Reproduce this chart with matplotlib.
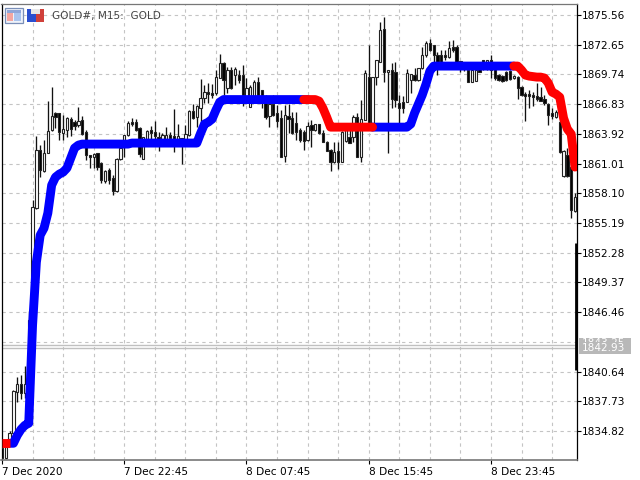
import matplotlib
matplotlib.use("Agg")
import matplotlib.pyplot as plt
from matplotlib.patches import Rectangle

# candles, one row per bar: open, high, low, close
candles = [
(1833.13,1833.22,1832.15,1832.15),(1832.15,1833.22,1832.15,1833.22),(1833.62,1834.79,1833.62,1834.60),(1834.60,1838.81,1834.60,1838.71),
(1838.61,1840.08,1837.63,1839.40),(1839.40,1840.28,1837.93,1838.52),(1838.52,1841.16,1838.03,1839.40),(1840.38,1846.55,1840.28,1845.67),
(1845.67,1857.43,1845.67,1856.74),(1856.65,1863.70,1856.55,1862.33),(1862.33,1862.82,1859.68,1860.37),(1860.27,1863.31,1860.17,1862.04),
(1862.04,1867.13,1862.04,1864.19),(1864.29,1868.50,1864.19,1865.66),(1865.96,1866.05,1864.49,1865.56),(1865.96,1865.96,1863.31,1864.09),
(1863.99,1865.76,1863.31,1864.39),(1864.29,1865.56,1863.60,1865.47),(1865.37,1865.56,1863.70,1864.39),(1865.07,1865.27,1864.29,1864.68),
(1864.78,1866.54,1864.58,1865.17),(1865.27,1865.66,1863.80,1863.90),(1864.09,1864.29,1861.35,1861.84),(1861.84,1861.84,1860.57,1861.64),
(1861.64,1862.04,1860.57,1861.94),(1862.04,1862.04,1860.37,1860.67),(1861.06,1861.15,1859.10,1859.39),(1859.29,1860.37,1859.10,1860.27),
(1860.37,1860.57,1859.00,1859.39),(1859.59,1859.88,1857.92,1858.31),(1858.31,1861.55,1858.21,1861.45),(1861.45,1862.82,1861.35,1862.53),
(1862.82,1863.80,1861.64,1863.80),(1863.80,1865.17,1863.70,1864.97),(1865.07,1865.47,1864.68,1864.88),(1865.07,1865.37,1864.19,1864.29),
(1864.49,1864.58,1861.64,1861.94),(1861.45,1863.60,1861.45,1863.60),(1863.41,1864.29,1862.82,1864.19),(1864.29,1864.68,1863.31,1863.99),
(1864.09,1865.17,1863.31,1863.70),(1863.60,1864.09,1862.23,1863.41),(1863.41,1863.99,1863.31,1863.80),(1863.41,1864.58,1863.11,1863.80),
(1863.80,1864.09,1863.21,1863.51),(1863.70,1866.35,1862.13,1863.41),(1863.41,1864.88,1863.11,1863.70),(1863.51,1863.51,1860.96,1863.21),
(1863.41,1864.78,1863.31,1863.90),(1863.80,1866.25,1863.70,1866.15),(1866.15,1866.84,1865.37,1865.47),(1865.56,1866.74,1864.58,1866.64),
(1866.45,1869.29,1864.78,1867.43),(1867.43,1868.70,1866.94,1868.01),(1868.01,1868.90,1866.94,1867.82),(1867.92,1868.80,1867.43,1867.72),
(1867.92,1870.17,1867.72,1869.48),(1869.39,1871.74,1869.39,1870.86),(1870.86,1870.95,1867.72,1869.19),(1868.41,1870.46,1867.92,1870.17),
(1870.17,1870.46,1868.31,1868.41),(1869.68,1870.46,1868.70,1870.27),(1869.68,1870.17,1868.90,1869.19),(1869.68,1870.66,1866.64,1867.72),
(1867.52,1869.39,1867.43,1868.41),(1866.54,1868.70,1866.54,1868.50),(1867.52,1869.19,1867.43,1868.99),(1868.99,1869.48,1867.52,1867.72),
(1868.21,1868.21,1866.45,1867.52),(1866.94,1867.72,1865.37,1865.56),(1865.66,1867.52,1864.58,1866.84),(1866.84,1867.72,1865.66,1865.76),
(1865.96,1866.74,1864.58,1865.17),(1865.47,1866.25,1861.64,1861.64),(1861.74,1866.74,1861.15,1865.76),(1865.66,1866.84,1863.99,1865.37),
(1865.47,1866.05,1863.90,1863.99),(1864.97,1866.05,1863.31,1864.09),(1864.29,1864.49,1863.11,1863.31),(1864.09,1864.29,1862.33,1863.21),
(1863.31,1865.07,1863.21,1864.68),(1864.78,1865.27,1862.62,1864.29),(1864.29,1864.88,1864.19,1864.88),(1864.88,1864.88,1863.90,1863.99),
(1863.99,1864.29,1863.11,1863.11),(1863.11,1863.21,1862.23,1862.23),(1862.33,1862.43,1860.27,1861.15),(1861.15,1863.11,1861.06,1862.13),
(1862.23,1863.11,1860.47,1861.15),(1861.15,1864.19,1861.15,1864.09),(1863.21,1864.49,1863.11,1864.29),(1863.60,1864.29,1863.02,1863.02),
(1863.60,1865.76,1863.11,1865.56),(1865.56,1865.96,1861.64,1861.64),(1861.64,1867.23,1861.15,1865.37),(1865.27,1870.17,1865.27,1869.88),
(1869.48,1872.62,1864.97,1864.97),(1864.97,1869.48,1864.97,1869.48),(1869.48,1871.15,1868.70,1871.15),(1870.95,1874.87,1870.95,1874.09),
(1874.19,1875.36,1868.99,1869.97),(1869.97,1870.17,1862.04,1870.17),(1870.17,1870.86,1866.45,1867.33),(1869.97,1870.95,1866.54,1867.23),
(1866.94,1867.72,1864.97,1866.45),(1867.03,1867.62,1865.96,1866.45),(1867.03,1870.27,1867.03,1869.88),(1869.19,1869.78,1867.92,1869.78),
(1869.68,1870.37,1869.09,1869.19),(1869.19,1870.37,1869.09,1870.37),(1870.37,1872.42,1870.27,1871.64),(1871.64,1873.01,1871.44,1872.82),
(1872.82,1873.21,1872.03,1872.13),(1872.62,1872.62,1870.86,1871.64),(1871.64,1871.93,1869.68,1870.86),(1871.64,1872.13,1870.66,1870.86),
(1871.64,1872.13,1871.15,1871.44),(1871.44,1873.01,1871.35,1872.33),(1872.42,1873.11,1871.93,1872.13),(1872.42,1872.62,1870.76,1870.95),
(1871.05,1871.05,1869.97,1870.76),(1870.56,1870.95,1870.07,1870.27),(1870.17,1870.27,1868.99,1868.99),(1868.99,1870.27,1868.99,1870.17),
(1869.09,1870.27,1869.09,1870.17),(1870.56,1870.66,1869.97,1869.97),(1871.15,1871.15,1870.17,1870.95),(1870.86,1871.15,1870.17,1871.15),
(1871.15,1871.64,1869.39,1870.17),(1870.37,1870.37,1869.19,1869.39),(1869.68,1869.78,1869.09,1869.19),(1869.58,1869.68,1868.99,1869.09),
(1869.97,1870.07,1869.09,1869.19),(1870.07,1870.17,1869.19,1869.29),(1869.39,1869.68,1869.29,1869.58),(1869.48,1869.58,1867.33,1868.41),
(1868.50,1868.60,1867.62,1867.72),(1867.82,1868.01,1865.17,1867.62),(1867.82,1868.21,1866.45,1867.62),(1867.72,1868.01,1866.64,1867.52),
(1867.62,1868.90,1867.13,1867.33),(1867.52,1868.50,1867.13,1867.13),(1867.33,1867.72,1866.74,1866.94),(1866.84,1866.94,1864.78,1865.76),
(1865.96,1866.45,1865.37,1865.66),(1865.56,1866.25,1865.47,1866.05),(1865.07,1865.76,1862.04,1862.13),(1859.78,1862.33,1859.68,1862.23),
(1861.84,1862.53,1859.68,1859.78),(1860.67,1861.06,1855.67,1856.45),(1856.35,1858.12,1856.25,1857.72),
]
# the bar still forming, squeezed against the price scale
last_high = 1853.22
last_low = 1840.77

# smoothed indicator line, one value per bar
line = [
1833.62,1833.62,1833.62,1833.62,1834.40,1834.99,1835.38,1835.58,1845.18,1851.35,1854.00,1854.69,1856.16,1858.90,1859.68,1859.98,
1860.17,1860.57,1861.55,1862.53,1862.82,1862.92,1862.92,1862.92,1862.92,1862.92,1862.92,1862.92,1862.92,1862.92,1862.92,1862.92,
1862.92,1862.92,1863.02,1863.02,1863.02,1863.02,1863.02,1863.02,1863.02,1863.02,1863.02,1863.02,1863.02,1863.02,1863.02,1863.02,
1863.02,1863.02,1863.02,1863.02,1863.99,1864.88,1865.07,1865.37,1866.25,1867.03,1867.28,1867.28,1867.28,1867.28,1867.28,1867.28,
1867.28,1867.28,1867.28,1867.28,1867.28,1867.28,1867.28,1867.28,1867.28,1867.28,1867.28,1867.28,1867.28,1867.28,1867.28,1867.28,
1867.28,1867.28,1867.28,1867.13,1866.45,1865.56,1864.58,1864.58,1864.58,1864.58,1864.58,1864.58,1864.58,1864.58,1864.58,1864.58,
1864.58,1864.58,1864.58,1864.58,1864.58,1864.58,1864.58,1864.58,1864.58,1864.58,1864.58,1864.88,1865.96,1866.84,1867.72,1868.80,
1870.07,1870.56,1870.56,1870.56,1870.56,1870.56,1870.56,1870.56,1870.56,1870.56,1870.56,1870.56,1870.56,1870.56,1870.56,1870.56,
1870.56,1870.56,1870.56,1870.56,1870.56,1870.56,1870.56,1870.56,1870.17,1869.68,1869.58,1869.53,1869.48,1869.48,1869.39,1868.90,
1868.01,1867.82,1867.52,1865.47,1864.39,1863.90,1860.67,
]
# bar ranges where the line is falling (red), drawn over the rising ones (blue)
blue_runs = [(2, 80), (97, 134)]
red_runs = [(0, 2), (79, 97), (134, 150)]

y_ticks = [1875.56, 1872.65, 1869.74, 1866.83, 1863.92, 1861.01, 1858.10, 1855.19,
           1852.28, 1849.37, 1846.46, 1840.64, 1837.73, 1834.82]
y_grid_extra = [1843.55]
x_ticks = [0, 32, 64, 96, 128]
x_labels = ["7 Dec 2020", "7 Dec 22:45", "8 Dec 07:45", "8 Dec 15:45", "8 Dec 23:45"]
x_grid = list(range(8, 151, 8))
bid = 1842.93
ask = 1843.25

W, H = 640, 480
fig = plt.figure(figsize=(W / 100, H / 100), dpi=100, facecolor="white")
ax = fig.add_axes([1.5 / W, 1 - 460 / H, 575.5 / W, 456 / H])
ax.set_xlim(-0.13, 150.52)
ax.set_ylim(1831.98, 1876.64)

# grid
grid_style = dict(color="#c4c4c4", lw=0.8, dashes=(3, 3.2), zorder=1)
for g in x_grid:
    ax.axvline(g, **grid_style)
for t in y_ticks + y_grid_extra:
    ax.axhline(t, **grid_style)

# bid / ask lines
ax.axhline(bid, color="#c0c0c0", lw=1, zorder=1.5)
ax.axhline(ask, color="#c0c0c0", lw=1, zorder=1.5)

# candles
for i, (o, h, l, c) in enumerate(candles):
    ax.plot([i, i], [l, h], color="#111111", lw=0.95, zorder=2, solid_capstyle="butt")
    face = "white" if c >= o else "black"
    ax.add_patch(Rectangle((i - 0.3, min(o, c)), 0.6, max(abs(c - o), 0.05),
                           facecolor=face, edgecolor="#222222", lw=0.8, zorder=3))
ax.plot([150.35, 150.35], [last_low, last_high], color="black", lw=2, zorder=3, solid_capstyle="butt")

# indicator
for a, b in blue_runs:
    ax.plot(range(a, b + 1), line[a:b + 1], color="#0000ff", lw=6.4, zorder=4,
            solid_capstyle="round", solid_joinstyle="round")
for a, b in red_runs:
    cap = "butt" if a == 0 else "round"
    ax.plot(range(a, b + 1), line[a:b + 1], color="#ff0000", lw=6.4, zorder=5,
            solid_capstyle=cap, solid_joinstyle="round")

# axes
for s in ("left", "right", "top"):
    ax.spines[s].set_color("black")
    ax.spines[s].set_linewidth(0.9)
ax.spines["top"].set_color("#777777")
ax.spines["bottom"].set_color("#777777")
ax.spines["bottom"].set_linewidth(1.2)

ax.yaxis.tick_right()
ax.set_yticks(y_ticks)
ax.set_yticklabels(["%.2f" % t for t in y_ticks])
ax.set_xticks(x_ticks)
ax.set_xticklabels(x_labels, ha="left")
ax.tick_params(axis="y", length=3.2, width=0.8, labelsize=7.6, pad=0.6, colors="black")
ax.tick_params(axis="x", length=3, width=0.8, labelsize=7.6, pad=2, colors="black")
for lab in ax.get_xticklabels():
    lab.set_x(lab.get_position()[0])


def px_box(x, y, w, h, fc, ec="none", lw=0.0, zorder=10):
    fig.add_artist(Rectangle((x / W, 1 - (y + h) / H), w / W, h / H, facecolor=fc, edgecolor=ec,
                             lw=lw, transform=fig.transFigure, zorder=zorder))


# price labels on the scale
px_box(579, 338, 52, 16, "#b8b8b8")
fig.text(582 / W, 1 - 343 / H, "%.2f" % ask, color="white", fontsize=7.6, va="center", zorder=11)
px_box(579, 342, 52, 12, "#b8b8b8", zorder=12)
fig.text(582 / W, 1 - 348 / H, "%.2f" % bid, color="white", fontsize=7.6, va="center", zorder=13)

# header icons and symbol text
px_box(5, 8, 18, 15, "#eef2fa", ec="#7a8fb8", lw=0.9)
px_box(7, 10, 14, 2.5, "#8fa6d8")
px_box(7, 13, 6, 8, "#f4a6a0")
px_box(14, 13, 7, 8, "#a9c4ee")
px_box(27, 9, 9, 13, "#2a4fd0")
px_box(36, 9, 8, 13, "#d0403a")
px_box(31, 9, 9, 5, "#e8e8e8")
fig.text(52 / W, 1 - 16 / H, "GOLD#, M15:  GOLD", color="#444444", fontsize=7.6, va="center")

fig.savefig("out.png", dpi=100)
